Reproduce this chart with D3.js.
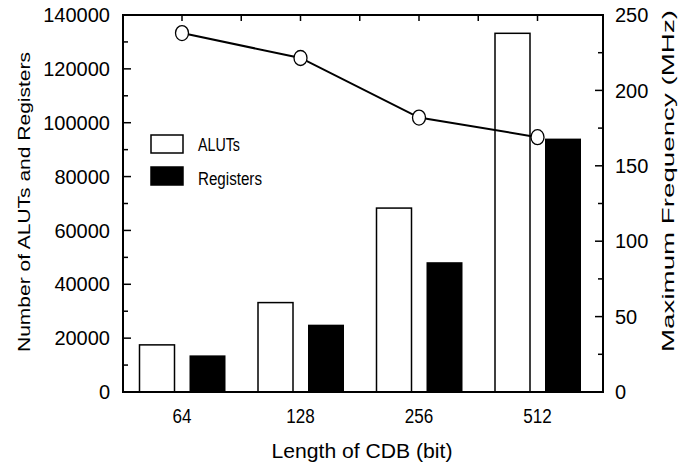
<!DOCTYPE html>
<html>
<head>
<script src="https://d3js.org/d3.v7.min.js"></script>
<style>
  body { margin: 0; background: #fff; }
  text { font-family: "Liberation Sans", Arial, sans-serif; fill: #000; }
</style>
</head>
<body>
<div id="chart"></div>
<script>
// data
const categories = ["64", "128", "256", "512"];
const aluts = [17500, 33200, 68300, 133200];
const registers = [13600, 25000, 48200, 94100];
const freq = [238, 221.5, 182, 169];
const leftTicks = [0, 20000, 40000, 60000, 80000, 100000, 120000, 140000];
const rightTicks = [0, 50, 100, 150, 200, 250];
const seriesNames = ["ALUTs", "Registers"];

const W = 679, H = 465;
const margin = {top: 15, right: 76, bottom: 73, left: 123};
const width = W - margin.left - margin.right,
      height = H - margin.top - margin.bottom;

const svg = d3.select("#chart").append("svg")
  .attr("width", W).attr("height", H);
const g = svg.append("g")
  .attr("transform", "translate(" + margin.left + "," + margin.top + ")");

const x = d3.scalePoint().domain(categories).range([59, 414.5]);
const step = x.step();
const y = d3.scaleLinear().domain([0, 140000]).range([height, 0]);
const y2 = d3.scaleLinear().domain([0, 250]).range([height, 0]);

const barW = 35, gap = 7.5;

// bars
g.selectAll(".alut").data(aluts).enter().append("rect")
  .attr("x", (d, i) => x(categories[i]) - gap - barW)
  .attr("y", d => y(d))
  .attr("width", barW)
  .attr("height", d => height - y(d))
  .attr("fill", "#fff").attr("stroke", "#000").attr("stroke-width", 1.5);

g.selectAll(".reg").data(registers).enter().append("rect")
  .attr("x", (d, i) => x(categories[i]) + gap)
  .attr("y", d => y(d))
  .attr("width", barW + 1)
  .attr("height", d => height - y(d))
  .attr("fill", "#000");

// frame
g.append("rect").attr("width", width).attr("height", height)
  .attr("fill", "none").attr("stroke", "#000").attr("stroke-width", 2);

// left axis ticks (inward) + minor
const minorL = d3.range(10000, 140000, 20000);
g.selectAll(".lmaj").data(leftTicks).enter().append("line")
  .attr("x1", 0).attr("x2", 8).attr("y1", d => y(d)).attr("y2", d => y(d))
  .attr("stroke", "#000").attr("stroke-width", 1.5);
g.selectAll(".lmin").data(minorL).enter().append("line")
  .attr("x1", 0).attr("x2", 5).attr("y1", d => y(d)).attr("y2", d => y(d))
  .attr("stroke", "#000").attr("stroke-width", 1.5);
g.selectAll(".llab").data(leftTicks).enter().append("text")
  .attr("x", -13).attr("y", d => y(d)).attr("dy", "0.36em")
  .attr("text-anchor", "end").attr("font-size", 20)
  .text(d => d);

// right axis
const minorR = d3.range(25, 250, 50);
g.selectAll(".rmaj").data(rightTicks).enter().append("line")
  .attr("x1", width).attr("x2", width - 8).attr("y1", d => y2(d)).attr("y2", d => y2(d))
  .attr("stroke", "#000").attr("stroke-width", 1.5);
g.selectAll(".rmin").data(minorR).enter().append("line")
  .attr("x1", width).attr("x2", width - 5).attr("y1", d => y2(d)).attr("y2", d => y2(d))
  .attr("stroke", "#000").attr("stroke-width", 1.5);
g.selectAll(".rlab").data(rightTicks).enter().append("text")
  .attr("x", width + 12).attr("y", d => y2(d)).attr("dy", "0.36em")
  .attr("text-anchor", "start").attr("font-size", 20)
  .text(d => d);

// top ticks at category centres and midpoints
const topTicks = [];
categories.forEach((c, i) => {
  topTicks.push(x(c));
  if (i < categories.length - 1) topTicks.push(x(c) + step / 2);
});
g.selectAll(".tt").data(topTicks).enter().append("line")
  .attr("x1", d => d).attr("x2", d => d).attr("y1", 0).attr("y2", 6)
  .attr("stroke", "#000").attr("stroke-width", 1.5);

// category labels (condensed look)
g.selectAll(".cat").data(categories).enter().append("text")
  .attr("x", d => x(d)).attr("y", height + 31)
  .attr("text-anchor", "middle").attr("font-size", 20)
  .attr("textLength", d => d.length * 9.5).attr("lengthAdjust", "spacingAndGlyphs")
  .text(d => d);

// frequency line
const line = d3.line().x((d, i) => x(categories[i])).y(d => y2(d));
g.append("path").datum(freq).attr("d", line)
  .attr("fill", "none").attr("stroke", "#000").attr("stroke-width", 2);
g.selectAll(".pt").data(freq).enter().append("ellipse")
  .attr("cx", (d, i) => x(categories[i])).attr("cy", d => y2(d))
  .attr("rx", 6.5).attr("ry", 7.5)
  .attr("fill", "#fff").attr("stroke", "#000").attr("stroke-width", 1.3);

// legend
const leg = g.append("g").attr("transform", "translate(28,120)");
seriesNames.forEach((s, i) => {
  leg.append("rect")
    .attr("x", 0).attr("y", i * 32).attr("width", 32).attr("height", 18)
    .attr("fill", i === 0 ? "#fff" : "#000")
    .attr("stroke", "#000").attr("stroke-width", 1.5);
  leg.append("text")
    .attr("x", 47).attr("y", i * 32 + 16 + (i === 1 ? 2 : 0))
    .attr("font-size", 18)
    .attr("textLength", i === 0 ? 42 : 64).attr("lengthAdjust", "spacingAndGlyphs")
    .text(s);
});

// axis titles
svg.append("text")
  .attr("transform", "translate(30,202) rotate(-90)")
  .attr("text-anchor", "middle").attr("font-size", 17)
  .attr("textLength", 300).attr("lengthAdjust", "spacingAndGlyphs")
  .text("Number of ALUTs and Registers");

svg.append("text")
  .attr("transform", "translate(674,181) rotate(-90)")
  .attr("text-anchor", "middle").attr("font-size", 17)
  .attr("textLength", 342).attr("lengthAdjust", "spacingAndGlyphs")
  .text("Maximum Frequency (MHz)");

svg.append("text")
  .attr("x", 362).attr("y", 458)
  .attr("text-anchor", "middle").attr("font-size", 20)
  .attr("textLength", 181).attr("lengthAdjust", "spacingAndGlyphs")
  .text("Length of CDB (bit)");
</script>
</body>
</html>
